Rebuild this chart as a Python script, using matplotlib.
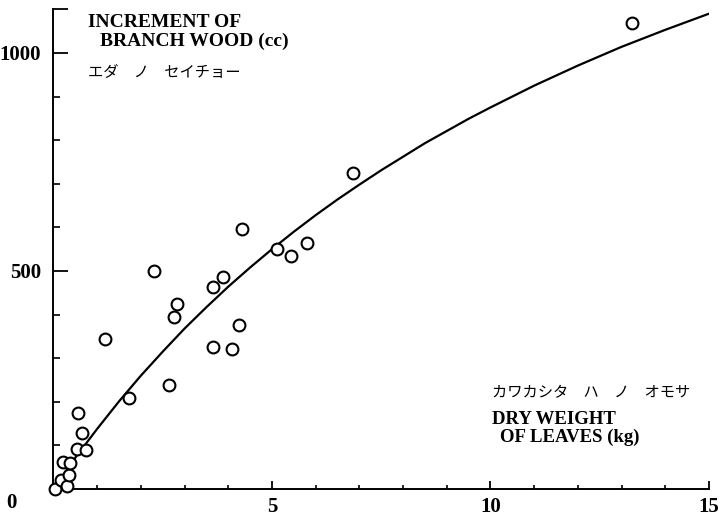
import matplotlib.pyplot as plt
from matplotlib.ticker import FixedLocator, MultipleLocator

# leaf dry weight (kg) vs branch wood increment (cc)
leaf_kg = [0.03, 0.17, 0.30, 0.36, 0.22, 0.38, 0.53, 0.74, 0.65, 0.56, 1.73,
           1.18, 2.31, 2.83, 2.76, 2.65,
           3.66, 3.89, 4.32, 4.24, 3.66, 4.08, 5.11, 5.43, 5.81,
           6.86, 13.23]
wood_cc = [0, 21, 8, 32, 62, 60, 91, 89, 128, 175, 209,
           343, 501, 424, 394, 239,
           464, 487, 596, 375, 326, 321, 550, 534, 565,
           725, 1068]

# fitted curve, read at intervals along the drawn line
curve_x = [0, 0.25, 0.5, 1, 1.5, 2, 2.5, 3, 3.5, 4, 4.5, 5, 5.5, 6, 6.5, 7,
           7.5, 8, 8.5, 9, 9.5, 10, 11, 12, 13, 14, 15]
curve_y = [0, 36, 72, 138, 201, 260, 315, 368, 417, 464, 508, 550, 590, 628,
           664, 698, 731, 762, 793, 821, 849, 875, 925, 971, 1014, 1053, 1090]

x_major = [5, 10, 15]
y_major = [500, 1000, 1100]
y_labels = ['500', '1000', '']

serif = 'Liberation Serif'
jp = 'Noto Sans CJK JP'

fig = plt.figure(figsize=(7.2, 5.18), dpi=100)
ax = fig.add_axes([0.0743, 0.056, 0.9104, 0.926])

ax.plot(curve_x, curve_y, color='black', lw=1.6)
ax.plot(leaf_kg, wood_cc, 'o', ms=8.5, mfc='white', mec='black', mew=1.5,
        clip_on=False, zorder=3)

ax.set_xlim(0, 15)
ax.set_ylim(0, 1100)
for s in ['top', 'right']:
    ax.spines[s].set_visible(False)
for s in ['left', 'bottom']:
    ax.spines[s].set_linewidth(1.4)

ax.xaxis.set_major_locator(FixedLocator(x_major))
ax.xaxis.set_minor_locator(MultipleLocator(1))
ax.yaxis.set_major_locator(FixedLocator(y_major))
ax.set_yticklabels(y_labels)
ax.yaxis.set_minor_locator(MultipleLocator(100))

ax.tick_params(axis='x', which='major', direction='in', length=6, width=1.3,
               pad=6, labelsize=15)
ax.tick_params(axis='x', which='minor', direction='in', length=3, width=1.2)
ax.tick_params(axis='y', which='major', direction='in', length=11, width=1.3,
               pad=9, labelsize=15)
ax.tick_params(axis='y', which='minor', direction='in', length=5, width=1.2)
for lab in ax.get_xticklabels() + ax.get_yticklabels():
    lab.set_fontfamily(serif)
    lab.set_fontweight('bold')

ax.annotate('0', xy=(0, 0), xytext=(-30, -10), textcoords='offset points',
            fontsize=15, fontweight='bold', family=serif, ha='center',
            va='center')

ax.text(0.0526, 0.972, 'INCREMENT OF', transform=ax.transAxes, family=serif,
        fontsize=14, fontweight='bold', va='center')
ax.text(0.071, 0.934, 'BRANCH WOOD (cc)', transform=ax.transAxes, family=serif,
        fontsize=14, fontweight='bold', va='center')
ax.text(0.0526, 0.869, 'エダ　ノ　セイチョー', transform=ax.transAxes, family=jp,
        fontsize=11, va='center')

ax.text(0.669, 0.200, 'カワカシタ　ハ　ノ　オモサ', transform=ax.transAxes,
        family=jp, fontsize=11, va='center')
ax.text(0.669, 0.144, 'DRY WEIGHT', transform=ax.transAxes, family=serif,
        fontsize=13.5, fontweight='bold', va='center')
ax.text(0.681, 0.108, 'OF LEAVES (kg)', transform=ax.transAxes, family=serif,
        fontsize=13.5, fontweight='bold', va='center')

fig.savefig('out.png', dpi=100)
